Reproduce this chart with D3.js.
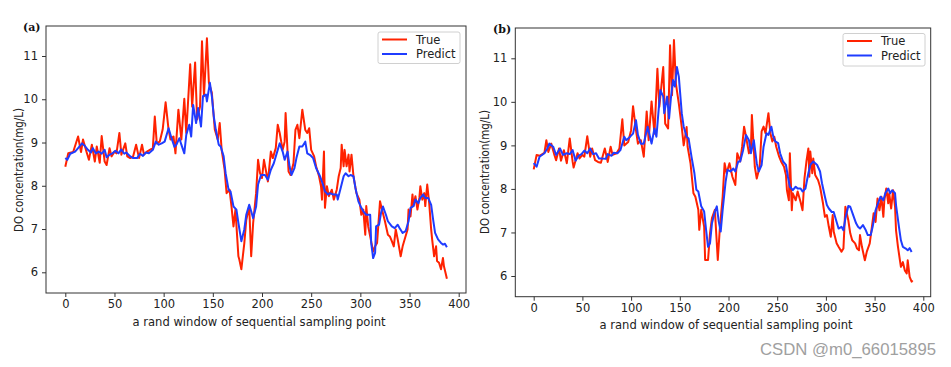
<!DOCTYPE html>
<html><head><meta charset="utf-8">
<script src="https://cdn.jsdelivr.net/npm/d3@7"></script>
<style>body{margin:0;background:#fff}svg{display:block}</style>
</head><body>
<svg id="chart" width="951" height="367"></svg>
<script>
// ---------- data ----------
const xTicks = [0, 50, 100, 150, 200, 250, 300, 350, 400];
const yTicks = [6, 7, 8, 9, 10, 11];
const seriesNames = ["True", "Predict"];
const panelLabels = ["(a)", "(b)"];
const xLabel = "a rand window of sequential sampling point";
const yLabel = "DO concentration(mg/L)";

const trueAx = [0,3,8,13,16,18,22,24,27,30,32,35,37,40,42,45,47,50,52,55,57,61,63,66,69,72,75,78,80,83,86,89,91,93,96,99,102,105,107,110,112,115,118,121,123,127,129,132,134,137,139,141,144,146,149,152,155,157,159,162,164,167,169,171,173,176,177,179,182,184,187,189,191,194,196,198,200,202,206,209,211,214,216,218,221,223,224,227,229,232,234,236,238,241,244,246,248,250,253,255,258,260,261,263,264,266,268,271,273,276,278,280,281,283,284,286,288,289,291,293,296,299,301,303,305,306,308,310,313,315,317,320,322,325,328,330,332,334,336,338,341,343,345,348,349,351,353,354,356,358,360,361,363,365,366,368,370,372,373,375,377,378,380,382,384,385,387,388];
const trueAy = [8.44,8.75,8.78,9.14,8.78,9.07,8.75,8.6,8.95,8.56,8.91,8.53,9.15,8.56,8.48,8.87,8.68,8.79,8.75,9.22,8.72,8.98,8.68,8.64,8.68,8.95,8.64,8.95,8.72,8.79,8.83,8.87,9.6,8.98,9.02,9.3,9.93,9.3,9.07,9.14,8.75,9.76,9.07,10.01,9.22,10.81,9.83,10.85,9.53,9.83,11.34,10.07,11.41,10.38,10.15,9.3,9.07,9.45,8.83,8.37,7.83,7.91,7.52,7.06,7.45,6.37,6.29,6.07,6.67,7.21,7.52,6.37,7.14,7.83,8.6,8.29,8.18,8.6,8.1,8.79,8.64,8.87,9.41,9.22,8.83,9.02,9.68,8.33,8.25,8.52,9.29,9.41,9.1,9.76,9.29,9.22,9.33,8.83,8.68,8.45,8.22,7.99,7.68,8.79,7.49,7.99,7.76,7.91,7.68,7.91,8.22,8.41,8.95,8.45,8.83,8.45,8.72,8.33,8.72,8.22,7.83,7.68,7.33,7.45,6.87,7.53,7.06,6.83,6.48,6.6,6.68,7.64,7.45,7.18,6.87,6.83,6.72,6.6,6.99,6.76,6.37,6.6,6.76,6.99,7.45,7.29,7.8,7.53,7.76,7.45,7.72,7.99,7.68,7.83,7.53,8.03,7.6,6.99,6.76,6.37,6.6,6.26,6.22,6.07,6.33,6.14,5.95,5.85];

const predAx = [0,2,5,10,13,17,20,23,26,28,31,34,37,40,42,45,48,51,54,57,60,62,66,69,73,76,79,82,85,89,92,95,98,101,105,108,111,113,116,118,121,123,126,128,130,133,135,138,140,143,144,147,149,151,153,156,158,161,163,166,168,171,174,176,179,182,184,187,189,191,194,196,199,203,206,209,212,216,218,221,223,226,228,230,233,235,238,241,244,246,249,252,255,259,262,264,267,269,272,276,277,280,283,285,288,290,293,295,298,301,303,306,310,311,313,315,316,319,321,323,326,328,332,335,338,340,343,346,349,351,354,356,359,361,364,366,369,372,374,376,379,382,384,386,388];
const predAy = [8.64,8.6,8.74,8.79,8.87,8.98,8.92,8.83,8.77,8.87,8.75,8.79,8.74,8.83,8.66,8.72,8.75,8.81,8.75,8.84,8.74,8.77,8.68,8.64,8.64,8.74,8.69,8.77,8.75,8.83,9.02,8.95,8.98,9.02,9.33,9.1,8.9,8.95,9.1,8.95,8.75,9.18,9.41,9.14,9.87,9.45,9.8,9.37,10.07,10.11,9.95,10.38,10.07,9.6,9.3,8.95,8.91,8.68,8.29,7.91,7.87,7.52,7.45,7.14,6.72,6.99,7.33,7.56,7.41,7.25,7.52,8.03,8.25,8.25,8.14,8.37,8.52,8.83,8.98,8.79,8.6,8.79,8.45,8.25,8.41,8.64,8.91,8.91,9.02,8.75,8.71,8.64,8.41,8.22,8.03,7.87,7.8,7.83,7.8,7.8,7.68,7.95,8.22,8.29,8.22,8.25,8.22,7.95,7.64,7.49,7.41,7.33,7.33,6.68,6.33,6.45,7.06,7.1,7.37,7.52,7.33,7.18,7.06,7.02,7.1,7.02,6.91,6.95,7.18,7.49,7.53,7.68,7.6,7.72,7.8,7.72,7.72,7.56,7.22,6.91,6.76,6.68,6.64,6.66,6.58];

const trueBx = [0,3,6,11,13,15,18,21,23,26,28,31,34,37,40,41,45,47,50,52,55,58,60,63,66,69,73,76,79,81,85,88,91,93,97,100,102,105,107,110,113,116,118,121,124,127,129,133,135,138,140,142,144,146,149,152,154,157,158,161,164,166,169,170,172,175,176,179,181,183,186,189,191,194,196,198,201,204,207,209,212,214,216,218,221,223,224,227,229,232,234,236,238,241,243,245,247,249,252,254,257,259,260,262,263,265,266,269,271,274,276,278,280,282,283,284,286,287,289,292,294,297,299,301,303,305,307,308,311,313,316,318,320,323,325,327,330,332,334,335,337,340,342,345,347,349,351,353,355,357,359,360,362,364,365,367,369,371,372,374,376,377,379,381,383,384,386,388,389];
const trueBy = [8.45,8.78,8.76,8.83,9.12,8.85,9.04,8.8,8.66,8.93,8.65,8.89,8.59,9.16,8.62,8.49,8.82,8.7,8.78,8.74,9.21,8.74,8.93,8.66,8.62,8.6,8.93,8.62,8.97,8.78,8.82,8.93,9.6,9.0,9.08,9.35,9.9,9.35,9.04,9.12,8.74,9.78,9.12,10.01,9.27,10.76,9.89,10.8,9.5,9.39,11.3,10.15,11.42,10.42,9.96,9.42,9.0,9.42,8.97,8.59,7.9,7.82,7.52,7.06,7.52,7.13,6.37,6.37,6.98,7.33,7.52,6.37,7.06,7.82,8.59,8.36,8.59,8.28,8.09,8.82,8.63,8.97,9.43,9.2,8.82,8.93,9.7,8.51,8.24,8.51,9.32,9.43,9.28,9.74,9.28,9.09,9.2,8.97,8.74,8.63,8.51,8.32,7.97,7.74,8.82,7.51,7.9,7.74,7.94,7.7,7.51,8.24,8.63,8.93,8.28,8.86,8.36,8.7,8.32,8.2,8.05,7.67,7.36,7.4,7.13,6.9,7.4,7.02,6.75,6.67,6.56,6.63,7.59,7.28,6.98,6.82,6.75,6.63,6.59,6.94,6.67,6.36,6.56,6.75,7.09,7.44,7.24,7.78,7.51,7.82,7.36,7.74,8.01,7.67,7.9,7.55,7.97,7.59,7.05,6.67,6.36,6.21,6.32,6.13,6.06,6.36,5.98,5.87,5.9];

const predBx = [0,3,6,11,14,16,20,23,27,30,34,37,40,43,46,49,52,55,58,61,64,67,70,74,76,80,82,86,89,93,95,99,102,105,107,110,113,117,119,121,124,126,128,130,133,134,137,139,141,143,145,147,149,152,154,157,159,162,165,167,169,172,175,177,179,181,183,186,188,190,192,194,197,199,202,205,207,210,212,215,218,221,223,226,229,231,234,236,239,241,244,246,248,251,253,256,259,261,263,266,269,271,274,276,279,282,284,287,289,291,294,296,299,301,303,306,308,311,313,316,318,320,323,325,328,331,333,335,338,341,343,346,348,351,354,356,359,361,364,366,368,371,372,375,377,379,382,384,386,388];
const predBy = [8.59,8.51,8.74,8.82,8.93,9.04,8.97,8.78,8.93,8.78,8.82,8.8,8.89,8.65,8.76,8.8,8.88,8.82,8.93,8.8,8.82,8.7,8.7,8.69,8.8,8.76,8.83,8.82,8.89,9.2,9.12,9.2,9.27,9.58,9.24,9.04,9.04,9.43,9.24,9.04,9.39,9.2,9.74,10.27,10.12,9.74,10.12,9.62,10.12,10.5,10.35,10.8,10.58,9.74,9.43,9.2,9.16,8.74,8.36,7.98,7.94,7.6,7.48,7.06,6.67,6.75,7.21,7.48,7.6,7.25,7.02,7.52,8.16,8.44,8.4,8.47,8.4,8.63,8.63,8.89,9.24,9.12,8.82,9.12,8.59,8.4,8.55,8.97,9.28,9.24,9.43,9.2,9.09,9.05,8.82,8.63,8.55,8.28,8.05,7.97,8.05,8.01,8.01,7.94,8.01,8.36,8.55,8.63,8.59,8.55,8.4,8.13,7.82,7.63,7.55,7.47,7.47,7.24,7.09,7.13,7.05,7.32,7.61,7.59,7.4,7.21,7.13,7.09,7.17,7.05,6.94,6.94,7.13,7.51,7.7,7.82,7.74,7.9,8.01,7.9,7.97,7.9,7.63,7.13,6.82,6.67,6.63,6.59,6.64,6.55];

// ---------- layout ----------
const colors = {True: "#ff2200", Predict: "#1f3cff"};
const panels = [
  {label: panelLabels[0], frame: [46, 26, 466, 293], xr: [65.3, 458.7], yr: [272.3, 56],
   tx: trueAx, ty: trueAy, px: predAx, py: predAy,
   lab: [23, 31], xl: [259, 326], yl: [19, 170], leg: [378, 32, 82, 31.5]},
  {label: panelLabels[1], frame: [515.3, 28, 930.7, 296.7], xr: [533.7, 923.3], yr: [276, 58.3],
   tx: trueBx, ty: trueBy, px: predBx, py: predBy,
   lab: [493, 32.5], xl: [726, 329], yl: [485, 172], leg: [843, 33.5, 82, 32.5]}
];

const svg = d3.select("#chart");
svg.append("rect").attr("width", 951).attr("height", 367).attr("fill", "#fff");

panels.forEach(p => {
  const g = svg.append("g");
  const x = d3.scaleLinear().domain([0, 400]).range(p.xr);
  const y = d3.scaleLinear().domain([6, 11]).range(p.yr);
  const [fx0, fy0, fx1, fy1] = p.frame;

  const line = d3.line().x(d => x(d[0])).y(d => y(d[1]));
  const tData = p.tx.map((v, i) => [v, p.ty[i]]);
  const pData = p.px.map((v, i) => [v, p.py[i]]);
  g.append("path").datum(tData).attr("d", line).attr("fill", "none")
    .attr("stroke", colors.True).attr("stroke-width", 2).attr("stroke-linejoin", "round");
  g.append("path").datum(pData).attr("d", line).attr("fill", "none")
    .attr("stroke", colors.Predict).attr("stroke-width", 2).attr("stroke-linejoin", "round");

  g.append("rect").attr("x", fx0).attr("y", fy0).attr("width", fx1 - fx0).attr("height", fy1 - fy0)
    .attr("fill", "none").attr("stroke", "#333").attr("stroke-width", 1);

  const xa = g.append("g").attr("transform", `translate(0,${fy1})`)
    .call(d3.axisBottom(x).tickValues(xTicks).tickSize(4).tickPadding(3));
  const ya = g.append("g").attr("transform", `translate(${fx0},0)`)
    .call(d3.axisLeft(y).tickValues(yTicks).tickSize(4).tickPadding(4).tickFormat(d3.format("d")));
  [xa, ya].forEach(a => {
    a.select(".domain").remove();
    a.selectAll("line").attr("stroke", "#333");
    a.selectAll("text").attr("fill", "#222").style("font-family", "DejaVu Sans").style("font-size", "11.5px");
  });

  g.append("text").attr("x", p.xl[0]).attr("y", p.xl[1]).attr("text-anchor", "middle")
    .style("font-family", "DejaVu Sans").style("font-size", "12px").attr("fill", "#222")
    .attr("textLength", 253).attr("lengthAdjust", "spacingAndGlyphs").text(xLabel);
  g.append("text").attr("transform", `translate(${p.yl[0]},${p.yl[1]}) rotate(-90)`)
    .attr("text-anchor", "middle").attr("dy", "0.35em")
    .style("font-family", "DejaVu Sans").style("font-size", "12px").attr("fill", "#222")
    .attr("textLength", 124).attr("lengthAdjust", "spacingAndGlyphs").text(yLabel);

  g.append("text").attr("x", p.lab[0]).attr("y", p.lab[1])
    .style("font-family", "DejaVu Serif").style("font-weight", "bold").style("font-size", "11px")
    .attr("fill", "#111").text(p.label);

  const [lx, ly, lw, lh] = p.leg;
  g.append("rect").attr("x", lx).attr("y", ly).attr("width", lw).attr("height", lh)
    .attr("rx", 2).attr("fill", "#fff").attr("stroke", "#d0d0d0");
  seriesNames.forEach((s, i) => {
    const yy = ly + 7.5 + i * 14.5;
    g.append("line").attr("x1", lx + 4).attr("x2", lx + 29).attr("y1", yy).attr("y2", yy)
      .attr("stroke", colors[s]).attr("stroke-width", 2);
    g.append("text").attr("x", lx + 38).attr("y", yy + 4.2)
      .style("font-family", "DejaVu Sans").style("font-size", "11.5px").attr("fill", "#222").text(s);
  });
});

svg.append("text").attr("x", 760).attr("y", 355)
  .style("font-family", "Liberation Sans").style("font-size", "16.5px").attr("fill", "#a0a0a0")
  .attr("textLength", 176).attr("lengthAdjust", "spacingAndGlyphs").text("CSDN @m0_66015895");
</script>
</body></html>
